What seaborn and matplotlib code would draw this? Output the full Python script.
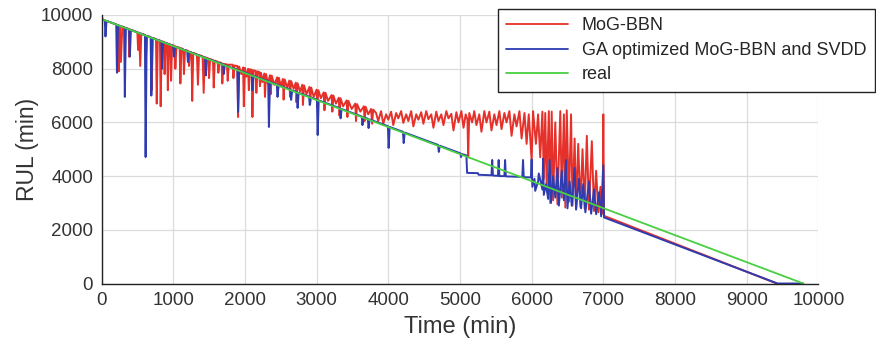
import numpy as np
import matplotlib
matplotlib.use('Agg')
import matplotlib.pyplot as plt
import seaborn as sns

# (time, RUL) points, minutes
real_time = [0, 9790]
real_rul = [9850, 0]

red_points = [
    (0, 9850), (230, 9620), (240, 7900), (255, 9600), (270, 8250), (290, 9570), (380, 9480), (385, 8450), (400, 9460),
    (500, 9360), (510, 8700), (525, 9340), (540, 8100), (555, 9310), (610, 9250), (620, 8400), (635, 9230),
    (690, 9170), (700, 7200), (715, 9150), (760, 9100), (770, 6700), (785, 9080), (815, 9050), (825, 6600), (840, 9020),
    (870, 9000), (880, 7800), (895, 8970), (915, 8950), (925, 7200), (940, 8930), (960, 8900), (970, 7550), (985, 8880),
    (1020, 8850), (1030, 8000), (1045, 8820), (1090, 8780), (1100, 7450), (1115, 8760), (1140, 8720), (1150, 7800), (1165, 8700),
    (1210, 8660), (1220, 8100), (1235, 8630), (1255, 8610), (1265, 6800), (1280, 8590), (1330, 8540), (1345, 7400), (1360, 8510),
    (1410, 8460), (1425, 7100), (1440, 8430), (1490, 8380), (1500, 7650), (1515, 8360), (1555, 8320), (1565, 7300), (1580, 8300),
    (1620, 8260), (1630, 7850), (1645, 8240), (1675, 8210), (1685, 7450), (1700, 8180), (1750, 8160), (1760, 7550), (1775, 8150),
    (1830, 8150), (1840, 7650), (1855, 8120), (1895, 8100), (1905, 6200), (1920, 8080), (1950, 7800), (1975, 8050),
    (1985, 6600), (2000, 8030), (2020, 7700), (2045, 8000), (2055, 7200), (2070, 7980), (2095, 7960), (2105, 6200),
    (2120, 7940), (2150, 7920), (2160, 7100), (2175, 7900), (2200, 7880), (2210, 7350), (2225, 7850), (2245, 7500),
    (2270, 7820), (2280, 6950), (2295, 7800), (2320, 7450), (2350, 7760), (2360, 7050), (2375, 7740), (2410, 7400),
    (2450, 7680), (2460, 7100), (2475, 7660), (2500, 7350), (2530, 7620), (2540, 6850), (2555, 7600), (2590, 7300),
    (2620, 7560), (2630, 6950), (2645, 7540), (2680, 7250), (2710, 7480), (2720, 6750), (2735, 7460), (2770, 7150),
    (2800, 7400), (2810, 6650), (2825, 7380), (2860, 7050), (2900, 7320), (2910, 6700), (2925, 7300), (2960, 6950),
    (3000, 7220), (3010, 6550), (3025, 7200), (3060, 6900), (3100, 7120), (3110, 6450), (3125, 7100), (3160, 6800),
    (3210, 7020), (3220, 6400), (3235, 7000), (3270, 6700), (3310, 6920), (3320, 6250), (3335, 6900), (3370, 6600),
    (3420, 6820), (3430, 6200), (3445, 6800), (3490, 6500), (3540, 6700), (3550, 6050), (3565, 6680), (3610, 6400),
    (3660, 6600), (3670, 6050), (3685, 6580), (3720, 6300), (3760, 6500), (3775, 5950), (3790, 6480),
    (3830, 6350), (3860, 6050), (3900, 6420), (3930, 5950), (3970, 6300), (4000, 6100), (4040, 6400), (4070, 5900),
    (4110, 6350), (4140, 6150), (4180, 6420), (4210, 5980), (4250, 6300), (4280, 6050), (4320, 6420), (4350, 5850),
    (4390, 6300), (4420, 6100), (4460, 6380), (4490, 5950), (4530, 6420), (4560, 6120), (4600, 6300), (4630, 5800),
    (4670, 6400), (4700, 6050), (4740, 6300), (4770, 5900), (4810, 6420), (4840, 6150), (4880, 6320), (4910, 5700),
    (4950, 6380), (4980, 6000), (5020, 6420), (5050, 5800), (5080, 6300), (5105, 6100), (5115, 4700), (5130, 6350),
    (5170, 6000), (5200, 6420), (5230, 5900), (5270, 6300), (5300, 5650), (5340, 6420), (5370, 6000), (5410, 6400),
    (5440, 5700), (5480, 6300), (5510, 5900), (5550, 6420), (5580, 5750), (5620, 6350), (5650, 6000), (5690, 6420),
    (5720, 5500), (5760, 6300), (5790, 5850), (5830, 6420), (5860, 5400), (5900, 6350), (5930, 5200), (5960, 6300),
    (6000, 4590), (6020, 6420), (6060, 5200), (6090, 6300), (6120, 4700), (6150, 6400), (6170, 3900), (6190, 6350),
    (6210, 3550), (6240, 6420), (6260, 3000), (6280, 6400), (6300, 3100), (6330, 6000), (6360, 2950), (6400, 6420),
    (6420, 3200), (6450, 6300), (6470, 2830), (6490, 6450), (6520, 3050), (6550, 6300), (6570, 2900), (6600, 5400),
    (6620, 2800), (6650, 5200), (6680, 2850), (6710, 5000), (6740, 2780), (6770, 5500), (6800, 2750), (6840, 5300),
    (6870, 2700), (6900, 4200), (6930, 2650), (6960, 3600), (6990, 2600), (7000, 6300), (7010, 2520), (9420, 0),
]

blue_points = [
    (0, 4490), (0, 9850), (45, 9800), (55, 9200), (70, 9780), (205, 9650), (215, 7850), (230, 9620),
    (315, 9540), (325, 6950), (340, 9510), (385, 9470), (395, 8450), (410, 9440), (605, 9250), (615, 4710),
    (630, 9220), (685, 9170), (695, 7000), (710, 9140), (835, 9020), (845, 8000), (860, 8990), (1000, 8850),
    (1010, 8450), (1025, 8820), (1195, 8660), (1205, 8250), (1220, 8630), (1445, 8410), (1455, 7750), (1470, 8380),
    (1695, 8160), (1705, 7800), (1720, 8130), (1895, 7960), (1905, 6390), (1920, 7930), (2095, 7760), (2105, 7200),
    (2120, 7730), (2325, 7530), (2335, 5830), (2350, 7500), (2445, 7410), (2455, 6950), (2470, 7380), (2635, 7220),
    (2645, 6840), (2660, 7190), (2725, 7130), (2735, 6540), (2750, 7100), (2895, 6960), (2905, 6650), (2920, 6930),
    (3005, 6850), (3015, 5530), (3030, 6820), (3325, 6530), (3335, 6150), (3350, 6500), (3630, 6220), (3640, 5900),
    (3655, 6190), (3715, 6140), (3725, 5790), (3740, 6110), (3995, 5860), (4005, 5050), (4020, 5830), (4205, 5650),
    (4215, 5230), (4230, 5620), (4695, 5160), (4705, 4900), (4720, 5130), (5005, 4850), (5015, 4710), (5030, 4820),
    (5090, 4770), (5100, 4120), (5250, 4110), (5260, 4050), (5440, 4030), (5450, 4600), (5460, 4020), (5530, 4010),
    (5540, 4600), (5550, 4000), (5620, 4000), (5630, 4600), (5640, 3990), (5870, 3970), (5880, 4600), (5890, 3960),
    (5990, 3950), (6000, 4620), (6010, 3600), (6040, 3900), (6050, 3450), (6090, 3800), (6100, 4100), (6150, 3500),
    (6160, 4650), (6170, 3300), (6200, 3700), (6230, 3150), (6250, 4600), (6270, 3000), (6300, 4000), (6330, 3200),
    (6360, 4300), (6380, 2900), (6420, 4200), (6450, 3100), (6480, 4600), (6500, 2800), (6530, 3800), (6560, 2900),
    (6600, 4300), (6620, 2750), (6660, 3900), (6690, 2800), (6720, 3700), (6750, 2650), (6800, 3800), (6830, 2600),
    (6870, 3500), (6900, 2580), (6940, 3400), (6970, 2500), (7000, 4400), (7010, 2460), (9430, 0), (9790, 0),
]

series_labels = ['MoG-BBN', 'GA optimized MoG-BBN and SVDD', 'real']
series_colors = ['#e6302a', '#2e3cb0', '#48d040']
x_ticks = np.arange(0, 10001, 1000)
y_ticks = np.arange(0, 10001, 2000)

sns.set_style('whitegrid')
plt.rcParams['font.family'] = ['Liberation Sans', 'DejaVu Sans']

fig = plt.figure(figsize=(8.76, 3.52), dpi=100)
ax = fig.add_axes([0.1159, 0.1946, 0.8183, 0.7628])

red_t, red_v = zip(*red_points)
blue_t, blue_v = zip(*blue_points)
sns.lineplot(x=list(red_t), y=list(red_v), sort=False, estimator=None, color=series_colors[0],
             lw=1.4, label=series_labels[0], ax=ax)
sns.lineplot(x=list(blue_t), y=list(blue_v), sort=False, estimator=None, color=series_colors[1],
             lw=1.4, label=series_labels[1], ax=ax)
sns.lineplot(x=real_time, y=real_rul, sort=False, estimator=None, color=series_colors[2],
             lw=1.3, label=series_labels[2], ax=ax)

ax.set_xlim(0, 10000)
ax.set_ylim(0, 10000)
ax.set_xticks(x_ticks)
ax.set_yticks(y_ticks)
ax.grid(True, color='#dcdcdc', lw=0.9)
for side in ['top', 'right']:
    ax.spines[side].set_visible(False)
for side in ['left', 'bottom']:
    ax.spines[side].set_color('#222222')
    ax.spines[side].set_linewidth(1.0)
ax.tick_params(direction='in', length=4, width=1, colors='#222222', labelsize=13.5, pad=6,
               labelcolor='#333333')
ax.set_xlabel('Time (min)', fontsize=17, color='#333333', labelpad=5)
ax.set_ylabel('RUL (min)', fontsize=16.5, color='#333333', labelpad=1)

leg = ax.legend(loc='upper left', bbox_to_anchor=(0.5685, 0.974), bbox_transform=fig.transFigure,
                borderaxespad=0, fontsize=13, frameon=True, fancybox=False, framealpha=1,
                edgecolor='#222222', handlelength=3.4, labelspacing=0.42, borderpad=0.45)
leg.get_frame().set_linewidth(1.0)
for line in leg.get_lines():
    line.set_linewidth(1.3)

fig.savefig('out.png', dpi=100)
